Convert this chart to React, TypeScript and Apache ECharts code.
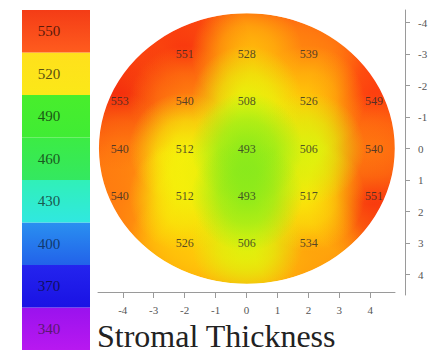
import React, { useEffect, useRef } from "react";
import * as echarts from "echarts";

// ---- data ----
const xTicks = [-4, -3, -2, -1, 0, 1, 2, 3, 4];
const yTicks = [-4, -3, -2, -1, 0, 1, 2, 3, 4];
const pointX = [-2, 0, 2, -4.1, -2, 0, 2, 4.1, -4.1, -2, 0, 2, 4.1, -4.1, -2, 0, 2, 4.1, -2, 0, 2];
const pointY = [-3, -3, -3, -1.5, -1.5, -1.5, -1.5, -1.5, 0, 0, 0, 0, 0, 1.5, 1.5, 1.5, 1.5, 1.5, 3, 3, 3];
const thickness = [551, 528, 539, 553, 540, 508, 526, 549, 540, 512, 493, 506, 540, 540, 512, 493, 517, 551, 526, 506, 534];
const scaleLabels = ["340", "370", "400", "430", "460", "490", "520", "550"];

// ---- styling ----
const SERIF = "Liberation Serif";
const domainRx = 4.77;
const domainRy = 4.3;
const bandColors: [string, string][] = [
  ["#b818f0", "#9a12ee"],
  ["#1a12e4", "#2424ee"],
  ["#2262ea", "#2a90f0"],
  ["#30e8e0", "#30f0b8"],
  ["#34e860", "#3cec44"],
  ["#40ec34", "#48ee2c"],
  ["#fbe818", "#ffe01c"],
  ["#ff5c1e", "#f43c16"],
];
const labelColors = ["#5a1870", "#101060", "#103a70", "#1a5a50", "#1a5a20", "#1a5a14", "#5a5010", "#5a1a0a"];
const fieldStops: [number, string][] = [
  [490, "#7ae81e"],
  [500, "#b4f014"],
  [510, "#f2f20a"],
  [520, "#ffe008"],
  [530, "#ffb00a"],
  [540, "#ff7a10"],
  [548, "#ff3c10"],
  [555, "#ee1c0c"],
];

function hexToRgb(h: string) {
  const n = parseInt(h.slice(1), 16);
  return [(n >> 16) & 255, (n >> 8) & 255, n & 255];
}
function fieldColor(v: number, a: number) {
  let i = 0;
  while (i < fieldStops.length - 2 && v > fieldStops[i + 1][0]) i++;
  const [v0, c0] = fieldStops[i];
  const [v1, c1] = fieldStops[i + 1];
  const t = Math.max(0, Math.min(1, (v - v0) / (v1 - v0)));
  const a0 = hexToRgb(c0);
  const a1 = hexToRgb(c1);
  const rgb = a0.map((x, k) => Math.round(x + (a1[k] - x) * t));
  return `rgba(${rgb[0]},${rgb[1]},${rgb[2]},${a})`;
}

export default function App() {
  const ref = useRef<HTMLDivElement>(null);
  useEffect(() => {
    if (!ref.current) return;
    const chart = echarts.init(ref.current, null, { renderer: "svg" });
    const order = thickness.map((_, i) => i).sort((a, b) => thickness[b] - thickness[a]);

    const renderField = (params: any, api: any) => {
      const c = api.coord([0, 0]);
      const rx = Math.abs(api.size([domainRx, 0])[0]);
      const ry = Math.abs(api.size([0, domainRy])[1]);
      const g = api.coord([0, 0.7]);
      const children: any[] = [];
      children.push({
        type: "ellipse",
        shape: { cx: c[0], cy: c[1], rx, ry },
        style: {
          fill: {
            type: "radial",
            x: g[0],
            y: g[1],
            r: 172,
            global: true,
            colorStops: [
              { offset: 0, color: "#84e81e" },
              { offset: 0.2, color: "#b4ee14" },
              { offset: 0.38, color: "#f0f20c" },
              { offset: 0.52, color: "#ffe008" },
              { offset: 0.65, color: "#ffb80a" },
              { offset: 0.8, color: "#ff8a0e" },
              { offset: 0.93, color: "#ff6210" },
              { offset: 1, color: "#ff5010" },
            ],
          },
        },
      });
      order.forEach((i) => {
        const p = api.coord([pointX[i], pointY[i]]);
        const v = thickness[i];
        const hot = v >= 545;
        const r = Math.abs(api.size([hot ? 2.2 : 1.8, 0])[0]);
        const a = hot ? 0.95 : 0.85;
        children.push({
          type: "circle",
          shape: { cx: p[0], cy: p[1], r },
          style: {
            fill: {
              type: "radial",
              x: p[0],
              y: p[1],
              r,
              global: true,
              colorStops: [
                { offset: 0, color: fieldColor(v, a) },
                { offset: 0.5, color: fieldColor(v, a * 0.65) },
                { offset: 1, color: fieldColor(v, 0) },
              ],
            },
          },
        });
      });
      children.push({
        type: "ring",
        shape: { cx: c[0], cy: c[1], r: rx + 90, r0: rx },
        scaleY: ry / rx,
        originX: c[0],
        originY: c[1],
        style: { fill: "#ffffff" },
      });
      return { type: "group", children };
    };

    chart.setOption({
      animation: false,
      backgroundColor: "#ffffff",
      textStyle: { fontFamily: SERIF },
      title: {
        text: "Stromal Thickness",
        left: 97,
        top: 320,
        padding: 0,
        textStyle: { fontFamily: SERIF, fontSize: 32, fontWeight: "normal", color: "#222" },
      },
      grid: [
        { left: 98, right: 28, top: 10, bottom: 59 },
        { left: 98, right: 38, top: 10, bottom: 62 },
        { left: 22, width: 68, top: 10, height: 340 },
      ],
      xAxis: [
        { gridIndex: 0, type: "value", min: -4.8, max: 5.1, show: false },
        {
          gridIndex: 1,
          type: "value",
          min: -4.8,
          max: 4.8,
          position: "bottom",
          z: 10,
          axisLine: { onZero: false, lineStyle: { color: "#9a9a9a", width: 1 } },
          axisTick: { customValues: xTicks, length: 6, lineStyle: { color: "#9a9a9a" } },
          axisLabel: {
            customValues: xTicks,
            margin: 12,
            fontFamily: SERIF,
            fontSize: 11,
            color: "#555",
          },
          splitLine: { show: false },
        },
        { gridIndex: 2, type: "value", min: 0, max: 1, show: false },
      ],
      yAxis: [
        {
          gridIndex: 0,
          type: "value",
          min: -4.4,
          max: 4.65,
          inverse: true,
          position: "right",
          z: 10,
          axisLine: { show: true, onZero: false, lineStyle: { color: "#9a9a9a", width: 1 } },
          axisTick: { show: true, customValues: yTicks, length: 5, lineStyle: { color: "#9a9a9a" } },
          axisLabel: {
            customValues: yTicks,
            margin: 13,
            fontFamily: SERIF,
            fontSize: 11,
            color: "#555",
          },
          splitLine: { show: false },
        },
        { gridIndex: 1, type: "value", min: 0, max: 1, show: false },
        { gridIndex: 2, type: "category", data: scaleLabels, show: false },
      ],
      series: [
        {
          type: "custom",
          xAxisIndex: 0,
          yAxisIndex: 0,
          z: 2,
          clip: true,
          data: [[0, 0]],
          encode: { x: 0, y: 1 },
          renderItem: renderField,
          silent: true,
        },
        {
          type: "scatter",
          xAxisIndex: 0,
          yAxisIndex: 0,
          z: 4,
          symbolSize: 1,
          itemStyle: { color: "rgba(0,0,0,0)" },
          data: pointX.map((x, i) => [x, pointY[i], thickness[i]]),
          label: {
            show: true,
            position: "inside",
            formatter: (p: any) => String(p.value[2]),
            fontFamily: SERIF,
            fontSize: 12,
            color: "#2a2a2a",
          },
        },
        {
          type: "bar",
          xAxisIndex: 2,
          yAxisIndex: 2,
          z: 5,
          barWidth: "100%",
          data: scaleLabels.map((_, i) => ({
            value: 1,
            itemStyle: {
              color: {
                type: "linear",
                x: 0,
                y: 0,
                x2: 0,
                y2: 1,
                colorStops: [
                  { offset: 0, color: bandColors[i][1] },
                  { offset: 1, color: bandColors[i][0] },
                ],
              },
            },
            label: { color: labelColors[i] },
          })),
          label: {
            show: true,
            position: "inside",
            offset: [-7, 0],
            formatter: "{b}",
            fontFamily: SERIF,
            fontSize: 15,
          },
        },
      ],
    });
    return () => chart.dispose();
  }, []);
  return (
    <div
      ref={ref}
      style={{ position: "absolute", left: 0, top: 0, width: 433, height: 354 }}
    />
  );
}
